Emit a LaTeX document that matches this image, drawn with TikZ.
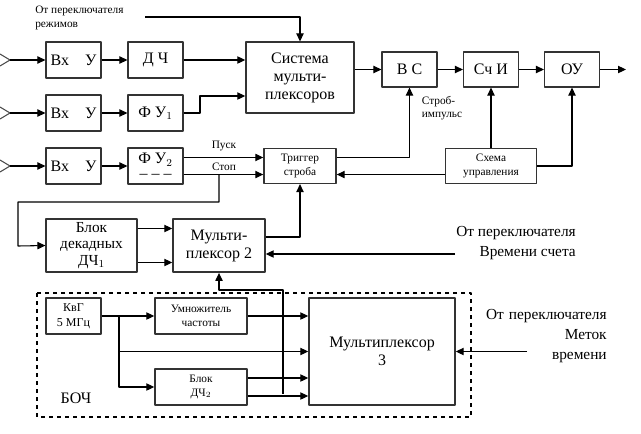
\documentclass[tikz,border=0pt]{standalone}
\usepackage{fontspec}
\setmainfont{Liberation Serif}
\usetikzlibrary{arrows.meta}
\newcommand{\bigsz}{\fontsize{12}{13.5}\selectfont}
\newcommand{\smallsz}{\fontsize{8.5}{10}\selectfont}
\newcommand{\midsz}{\fontsize{11.5}{15}\selectfont}
\tikzset{
	blk/.style={draw=black!80,line width=1.1pt,align=center,inner sep=1pt,font=\bigsz},
	sblk/.style={blk,font=\smallsz},
	lnk/.style={line width=0.8pt,->},
}
\begin{document}
\begin{tikzpicture}[x=0.75pt,y=-0.75pt,line join=round,>={Triangle[length=6pt,width=5.5pt]}]
	\useasboundingbox (0,0) rectangle (641,433);
	% входы
	\foreach \n/\y in {1/60,2/113,3/166}{
		\draw[line width=0.8pt,black!70] (0,\y-6)--(10,\y)--(0,\y+6);
		\coordinate (in\n) at (10,\y);
	}
	\node[blk,minimum width=41pt,minimum height=27pt] (vxu1) at (73.5,60) {Вх\quad У};
	\node[blk,minimum width=41pt,minimum height=27pt] (vxu2) at (73.5,113) {Вх\quad У};
	\node[blk,minimum width=41pt,minimum height=27pt] (vxu3) at (73.5,166) {Вх\quad У};
	\node[blk,minimum width=41pt,minimum height=27pt] (dch) at (155.5,60) {Д Ч};
	\node[blk,minimum width=41pt,minimum height=27pt] (fu1) at (155.5,113) {Ф У$_1$};
	\node[blk,minimum width=41pt,minimum height=27pt,font=\fontsize{12}{9}\selectfont] (fu2) at (155.5,166) {Ф У$_2$\\[2pt]– – –};
	\node[blk,minimum width=81pt,minimum height=53pt] (sys) at (300,77.5) {Система\\мульти-\\плексоров};
	\node[blk,minimum width=41pt,minimum height=26pt] (vs) at (409.5,69.5) {В С};
	\node[blk,minimum width=41pt,minimum height=26pt] (schi) at (491,69.5) {Сч И};
	\node[blk,minimum width=41pt,minimum height=26pt] (ou) at (572,69.5) {ОУ};
	\coordinate (out) at (626,69.5);
	\node[sblk,minimum width=54pt,minimum height=26pt] (trig) at (300,166) {Триггер\\строба};
	\node[sblk,minimum width=68pt,minimum height=26pt] (upr) at (491,166) {Схема\\управления};
	\node[blk,minimum width=68pt,minimum height=40pt,font=\fontsize{11.5}{12.2}\selectfont] (bdch1) at (91.5,245.5) {Блок\\декадных\\ДЧ$_1$};
	\node[blk,minimum width=69pt,minimum height=40pt] (mux2) at (219,245.5) {Мульти-\\плексор 2};
	% БОЧ
	\draw[dashed,line width=0.8pt] (37,293) rectangle (471,417);
	\node[font=\bigsz] (boch) at (76,398) {БОЧ};
	\node[sblk,minimum width=41pt,minimum height=27pt,font=\fontsize{9}{11}\selectfont] (kvg) at (73.5,316) {КвГ\\5 МГц};
	\node[sblk,minimum width=69pt,minimum height=27pt] (umn) at (201,316) {Умножитель\\частоты};
	\node[sblk,minimum width=69pt,minimum height=27pt] (bdch2) at (201,387) {Блок\\ДЧ$_2$};
	\node[blk,minimum width=109.5pt,minimum height=80pt] (mux3) at (382,351.5) {Мультиплексор\\3};
	% надписи
	\node[font=\smallsz,align=left,anchor=north west,inner sep=0pt] (rezh) at (35,6) {От переключателя\\режимов};
	\coordinate (rz) at (145,17);
	\node[font=\smallsz] (pusk) at (224,146) {Пуск};
	\node[font=\smallsz] (stop) at (224,166.5) {Стоп};
	\node[font=\smallsz,align=left] (strob) at (442,108) {Строб-\\импульс};
	\node[font=\midsz,align=right] (vrsch) at (516,243) {От переключателя\\Времени счета};
	\coordinate (vr) at (455,254);
	\node[font=\midsz,align=right,text width=100pt] (metki) at (540,336) {От переключателя\\Меток\\времени};
	\coordinate (mt) at (527,351.5);
	% связи
	\foreach \n/\m in {1/vxu1,2/vxu2,3/vxu3}
	\draw[lnk] (in\n) -- (\m);
	\draw[lnk] (vxu1) -- (dch);
	\draw[lnk] (vxu2) -- (fu1);
	\draw[lnk] (vxu3) -- (fu2);
	\draw[lnk] (dch.east) -- (dch.east -| sys.west);
	\draw[lnk] (fu1.east) -- (200,113) |- (sys.west |- 0,96);
	\draw[lnk] (rz) -| (sys.north);
	\draw[lnk] (sys.east |- vs.west) -- (vs.west);
	\draw[lnk] (vs) -- (schi);
	\draw[lnk] (schi) -- (ou);
	\draw[lnk] (ou) -- (out);
	\draw[lnk] ([yshift=6.4pt]fu2.east) -- ([yshift=6.4pt]trig.west);
	\draw[lnk] ([yshift=-6.4pt]fu2.east) -- ([yshift=-6.4pt]trig.west);
	\coordinate (stp) at (219,174.5);
	\draw[lnk] (stp) -- (219,202) -| (18,246) -- (bdch1.west);
	\draw[lnk] ([yshift=6.4pt]trig.east) -| (vs.south);
	\draw[lnk] (upr.north) -- (schi.south);
	\draw[lnk] (upr.east) -| (ou.south);
	\draw[lnk] ([yshift=-6.4pt]upr.west) -- ([yshift=-6.4pt]trig.east);
	\draw[lnk] ([yshift=6.4pt]mux2.east) -| (trig.south);
	\draw[lnk] ([yshift=12.75pt]bdch1.east) -- ([yshift=12.75pt]mux2.west);
	\draw[lnk] ([yshift=-12.75pt]bdch1.east) -- ([yshift=-12.75pt]mux2.west);
	\draw[lnk] (vr) -- (vr -| mux2.east);
	\draw[lnk] (mt) -- (mux3.east);
	\draw[lnk] (kvg) -- (umn);
	\coordinate (br) at (119,316);
	\draw[lnk] (br) |- (bdch2.west);
	\draw[lnk] (br |- mux3.west) -- (mux3.west);
	\draw[lnk] (umn.east) -- (umn.east -| mux3.west);
	\draw[lnk] ([yshift=6.75pt]bdch2.east) -- ([yshift=6.75pt]bdch2.east -| mux3.west);
	\draw[lnk] ([yshift=-6.75pt]bdch2.east) -- ([yshift=-6.75pt]bdch2.east -| mux3.west);
	\coordinate (tap) at (283,393.75);
	\draw[lnk] (tap) -- (283,290) -| (mux2.south);
\end{tikzpicture}
\end{document}
